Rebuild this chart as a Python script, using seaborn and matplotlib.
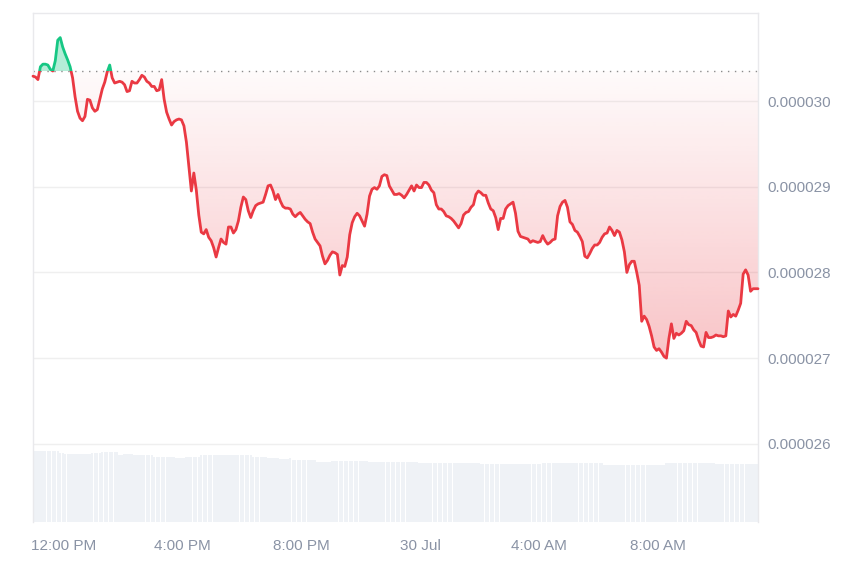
import numpy as np
import pandas as pd
import matplotlib
matplotlib.use("Agg")
import matplotlib.pyplot as plt
import matplotlib.dates as mdates
from matplotlib.colors import to_rgb
from matplotlib.patches import Rectangle
from matplotlib.path import Path
import seaborn as sns

# 24h price, one point every 5 minutes, in units of 1e-6 USD
start_time = "2024-07-29 10:58"
step = "5min"
price_e6 = [
    30.29, 30.28, 30.25, 30.40, 30.43, 30.43, 30.42, 30.37, 30.35, 30.47,
    30.71, 30.74, 30.63, 30.55, 30.48, 30.40, 30.27, 30.05, 29.88, 29.80,
    29.77, 29.82, 30.02, 30.01, 29.92, 29.88, 29.90, 30.02, 30.14, 30.22,
    30.34, 30.42, 30.27, 30.21, 30.22, 30.23, 30.22, 30.19, 30.11, 30.12,
    30.23, 30.21, 30.21, 30.25, 30.30, 30.28, 30.23, 30.21, 30.17, 30.17,
    30.12, 30.13, 30.25, 30.02, 29.87, 29.79, 29.72, 29.76, 29.78, 29.79,
    29.78, 29.71, 29.52, 29.24, 28.95, 29.16, 28.96, 28.67, 28.47, 28.45,
    28.50, 28.41, 28.37, 28.29, 28.18, 28.29, 28.39, 28.35, 28.33, 28.53,
    28.53, 28.46, 28.50, 28.60, 28.76, 28.88, 28.85, 28.72, 28.64, 28.72,
    28.78, 28.80, 28.81, 28.82, 28.91, 29.01, 29.02, 28.95, 28.85, 28.91,
    28.83, 28.77, 28.75, 28.75, 28.74, 28.68, 28.65, 28.68, 28.70, 28.66,
    28.62, 28.59, 28.57, 28.47, 28.39, 28.35, 28.31, 28.19, 28.10, 28.14,
    28.20, 28.24, 28.23, 28.21, 27.97, 28.08, 28.07, 28.18, 28.44, 28.58,
    28.65, 28.69, 28.66, 28.60, 28.54, 28.68, 28.89, 28.97, 28.99, 28.97,
    29.01, 29.12, 29.14, 29.13, 29.01, 28.96, 28.91, 28.91, 28.92, 28.90,
    28.87, 28.91, 28.96, 29.01, 28.95, 29.02, 28.99, 28.99, 29.05, 29.05,
    29.02, 28.96, 28.93, 28.79, 28.74, 28.74, 28.71, 28.66, 28.65, 28.63,
    28.60, 28.56, 28.52, 28.57, 28.67, 28.70, 28.71, 28.76, 28.79, 28.91,
    28.95, 28.93, 28.90, 28.90, 28.81, 28.74, 28.72, 28.64, 28.50, 28.63,
    28.63, 28.74, 28.78, 28.80, 28.82, 28.69, 28.48, 28.42, 28.41, 28.40,
    28.39, 28.35, 28.37, 28.36, 28.35, 28.36, 28.43, 28.37, 28.33, 28.35,
    28.38, 28.39, 28.66, 28.77, 28.82, 28.84, 28.76, 28.59, 28.56, 28.49,
    28.47, 28.42, 28.36, 28.19, 28.17, 28.22, 28.28, 28.32, 28.32, 28.35,
    28.41, 28.45, 28.46, 28.53, 28.49, 28.43, 28.49, 28.47, 28.38, 28.24,
    28.00, 28.09, 28.13, 28.13, 28.00, 27.85, 27.43, 27.49, 27.45, 27.37,
    27.26, 27.13, 27.09, 27.11, 27.07, 27.02, 27.00, 27.23, 27.40, 27.23,
    27.29, 27.27, 27.29, 27.32, 27.43, 27.39, 27.38, 27.33, 27.30, 27.21,
    27.14, 27.13, 27.30, 27.24, 27.24, 27.25, 27.27, 27.26, 27.26, 27.25,
    27.26, 27.55, 27.48, 27.51, 27.49, 27.56, 27.64, 27.98, 28.03, 27.97,
    27.78, 27.81, 27.81, 27.81,
]

# rolling volume under the chart (arbitrary units, no axis shown)
volume = [
    7.1, 7.1, 7.1, 7.1, 7.1, 7.1, 7.1, 7.1, 7.1, 7.1,
    7.1, 6.9, 6.9, 6.8, 6.8, 6.8, 6.8, 6.8, 6.8, 6.8,
    6.8, 6.8, 6.8, 6.8, 6.9, 6.9, 6.9, 6.9, 7.0, 7.0,
    7.0, 7.0, 7.0, 7.0, 7.0, 6.7, 6.7, 6.8, 6.8, 6.8,
    6.8, 6.7, 6.7, 6.7, 6.7, 6.7, 6.7, 6.7, 6.7, 6.5,
    6.5, 6.5, 6.5, 6.5, 6.5, 6.5, 6.5, 6.5, 6.4, 6.4,
    6.4, 6.4, 6.5, 6.5, 6.5, 6.5, 6.5, 6.5, 6.7, 6.7,
    6.7, 6.7, 6.7, 6.7, 6.7, 6.7, 6.7, 6.7, 6.7, 6.7,
    6.7, 6.7, 6.7, 6.7, 6.7, 6.7, 6.7, 6.7, 6.7, 6.5,
    6.5, 6.5, 6.5, 6.5, 6.5, 6.4, 6.4, 6.4, 6.4, 6.4,
    6.3, 6.3, 6.3, 6.3, 6.4, 6.2, 6.2, 6.2, 6.2, 6.2,
    6.2, 6.2, 6.2, 6.2, 6.2, 6.0, 6.0, 6.0, 6.0, 6.0,
    6.0, 6.1, 6.1, 6.1, 6.1, 6.1, 6.1, 6.1, 6.1, 6.1,
    6.1, 6.1, 6.1, 6.1, 6.1, 6.1, 6.0, 6.0, 6.0, 6.0,
    6.0, 6.0, 6.0, 6.0, 6.0, 6.0, 6.0, 6.0, 6.0, 6.0,
    6.0, 6.0, 6.0, 6.0, 6.0, 6.0, 5.9, 5.9, 5.9, 5.9,
    5.9, 5.9, 5.9, 5.9, 5.9, 5.9, 5.9, 5.9, 5.9, 5.9,
    5.9, 5.9, 5.9, 5.9, 5.9, 5.9, 5.9, 5.9, 5.9, 5.9,
    5.9, 5.8, 5.8, 5.8, 5.8, 5.8, 5.8, 5.8, 5.8, 5.8,
    5.8, 5.8, 5.8, 5.8, 5.8, 5.8, 5.8, 5.8, 5.8, 5.8,
    5.8, 5.8, 5.8, 5.8, 5.8, 5.8, 5.9, 5.9, 5.9, 5.9,
    5.9, 5.9, 5.9, 5.9, 5.9, 5.9, 5.9, 5.9, 5.9, 5.9,
    5.9, 5.9, 5.9, 5.9, 5.9, 5.9, 5.9, 5.9, 5.9, 5.9,
    5.9, 5.7, 5.7, 5.7, 5.7, 5.7, 5.7, 5.7, 5.7, 5.7,
    5.7, 5.7, 5.7, 5.7, 5.7, 5.7, 5.7, 5.7, 5.7, 5.7,
    5.7, 5.7, 5.7, 5.7, 5.7, 5.7, 5.9, 5.9, 5.9, 5.9,
    5.9, 5.9, 5.9, 5.9, 5.9, 5.9, 5.9, 5.9, 5.9, 5.9,
    5.9, 5.9, 5.9, 5.9, 5.9, 5.9, 5.8, 5.8, 5.8, 5.8,
    5.8, 5.8, 5.8, 5.8, 5.8, 5.8, 5.8, 5.8, 5.8, 5.8,
    5.8, 5.8, 5.8, 5.8,
]

baseline_e6 = 30.35
price_ticks_e6 = [26, 27, 28, 29, 30]
time_ticks = ["2024-07-29 12:00", "2024-07-29 16:00", "2024-07-29 20:00",
              "2024-07-30 00:00", "2024-07-30 04:00", "2024-07-30 08:00"]
time_labels = ["12:00 PM", "4:00 PM", "8:00 PM", "30 Jul", "4:00 AM", "8:00 AM"]

RED = "#ea3943"
GREEN = "#16c784"
LABEL = "#8a93a5"
FRAME = "#e9e9ec"

times = pd.date_range(start_time, periods=len(price_e6), freq=step)
df = pd.DataFrame({
    "t": mdates.date2num(times),
    "price": np.array(price_e6) * 1e-6,
    "volume": volume,
})
base = baseline_e6 * 1e-6
x = df["t"].values
y = df["price"].values

sns.set_theme(style="white")
plt.rcParams["font.family"] = ["Liberation Sans", "DejaVu Sans"]

fig = plt.figure(figsize=(8.5, 5.67), dpi=100)
ax = fig.add_axes([33 / 850, 45 / 567, 725 / 850, 509 / 567])
ax2 = ax.twinx()
ax.set_zorder(ax2.get_zorder() + 1)
ax.patch.set_visible(False)

# volume bars at the bottom
ax2.bar(x, df["volume"], width=(x[1] - x[0]) * 0.9, color="#eff2f6", linewidth=0)
ax2.set_ylim(0, 50.9)
ax2.set_yticks([])
for s in ax2.spines.values():
    s.set_visible(False)

# fills: green above the open price, red gradient below it
ax.fill_between(x, y, base, where=y >= base, interpolate=True,
                color=GREEN, alpha=0.32, linewidth=0, zorder=1)
below = ax.fill_between(x, y, base, where=y <= base, interpolate=True,
                        facecolor="none", edgecolor="none")
grad = np.zeros((256, 1, 4))
grad[..., :3] = to_rgb(RED)
grad[:, 0, 3] = np.linspace(0.02, 0.30, 256)
img = ax.imshow(grad, extent=[x[0], x[-1], y.min(), base], aspect="auto",
                origin="upper", zorder=1, interpolation="bilinear")
img.set_clip_path(Path.make_compound_path(*below.get_paths()), ax.transData)

# price line, red below the open price and green above it
sns.lineplot(data=df, x="t", y="price", ax=ax, color=RED, linewidth=2.0, zorder=3)
ax.lines[-1].set_clip_path(Rectangle((x[0] - 1, 0), 5, base, transform=ax.transData))
sns.lineplot(data=df, x="t", y="price", ax=ax, color=GREEN, linewidth=2.0, zorder=3)
ax.lines[-1].set_clip_path(Rectangle((x[0] - 1, base), 5, 1e-4, transform=ax.transData))

ax.axhline(base, color="#8c8c8c", linestyle=(0, (1, 4)), linewidth=1.0, zorder=2)

ax.set_xlim(x[0], x[-1])
ax.set_ylim(25.088e-6, 31.027e-6)
ax.set_xticks(mdates.date2num(pd.to_datetime(time_ticks)))
ax.set_xticklabels(time_labels)
ax.set_yticks(np.array(price_ticks_e6) * 1e-6)
ax.set_yticklabels([f"{v * 1e-6:.6f}" for v in price_ticks_e6])
ax.yaxis.tick_right()
ax.tick_params(axis="x", length=0, pad=12, labelsize=11, labelcolor=LABEL)
ax.tick_params(axis="y", length=0, pad=7, labelsize=11, labelcolor=LABEL)
ax.set_xlabel("")
ax.set_ylabel("")
ax.yaxis.grid(True, color="#efefef", linewidth=1)
ax.set_axisbelow(True)

for name in ["top", "left", "right"]:
    ax.spines[name].set_color(FRAME)
    ax.spines[name].set_linewidth(1)
ax.spines["bottom"].set_visible(False)

fig.savefig("out.png", dpi=100, facecolor="white")
